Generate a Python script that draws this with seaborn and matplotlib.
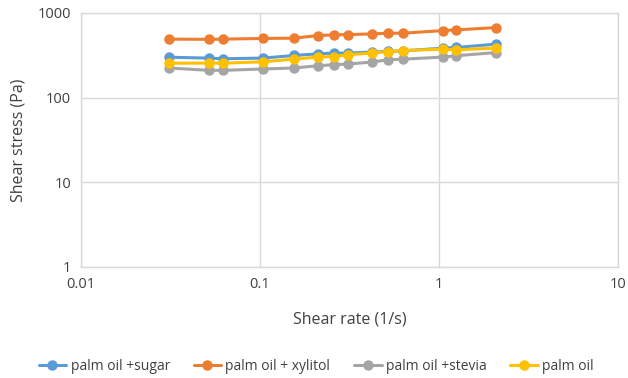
import matplotlib
matplotlib.use('Agg')
import matplotlib.pyplot as plt
import seaborn as sns
import pandas as pd

shear_rate = [0.031, 0.052, 0.062, 0.104, 0.155, 0.21, 0.26, 0.31, 0.42, 0.52, 0.63, 1.05, 1.24, 2.08]
sugar = [300, 293, 288, 293, 315, 329, 336, 336, 345, 352, 357, 384, 391, 428]
xylitol = [491, 488, 491, 500, 504, 541, 551, 555, 566, 577, 577, 619, 631, 672]
stevia = [224, 210, 210, 218, 224, 238, 245, 249, 263, 280, 285, 301, 312, 341]
palm = [255, 256, 255, 265, 285, 301, 306, 321, 336, 350, 360, 374, 367, 384]

names = ['palm oil +sugar', 'palm oil + xylitol', 'palm oil +stevia', 'palm oil']
colors = ['#5B9BD5', '#ED7D31', '#A5A5A5', '#FFC000']

frames = []
for name, vals in zip(names, [sugar, xylitol, stevia, palm]):
    frames.append(pd.DataFrame({'rate': shear_rate, 'stress': vals, 'sample': name}))
df = pd.concat(frames, ignore_index=True)

sns.set_style('white')
plt.rcParams['font.family'] = ['Open Sans', 'DejaVu Sans']

fig = plt.figure(figsize=(6.28, 3.78), dpi=100)
ax = fig.add_axes([0.129, 0.2937, 0.855, 0.672])

sns.lineplot(data=df, x='rate', y='stress', hue='sample', hue_order=names,
             palette=colors, marker='o', markersize=7.5, markeredgewidth=0,
             linewidth=2.2, ax=ax, legend=True)

ax.set_xscale('log')
ax.set_yscale('log')
ax.set_xlim(0.01, 10)
ax.set_ylim(1, 1000)
ax.set_xticks([0.01, 0.1, 1, 10])
ax.set_xticklabels(['0.01', '0.1', '1', '10'])
ax.set_yticks([1, 10, 100, 1000])
ax.set_yticklabels(['1', '10', '100', '1000'])
ax.minorticks_off()
ax.tick_params(axis='both', length=0, labelsize=10.5, colors='#404040', pad=7)

ax.grid(True, color='#D9D9D9', linewidth=1)
for s in ax.spines.values():
    s.set_color('#D9D9D9')
    s.set_linewidth(1)

ax.set_xlabel('Shear rate (1/s)', fontsize=11.5, color='#404040', labelpad=14)
ax.set_ylabel('Shear stress (Pa)', fontsize=11.5, color='#404040', labelpad=8)

handles, labels = ax.get_legend_handles_labels()
ax.legend(handles, labels, loc='center', bbox_to_anchor=(0.438, -0.39), ncol=4,
          frameon=False, fontsize=10, handlelength=2.0, columnspacing=1.7,
          handletextpad=0.3, labelcolor='#404040')

fig.savefig('out.png', dpi=100)
